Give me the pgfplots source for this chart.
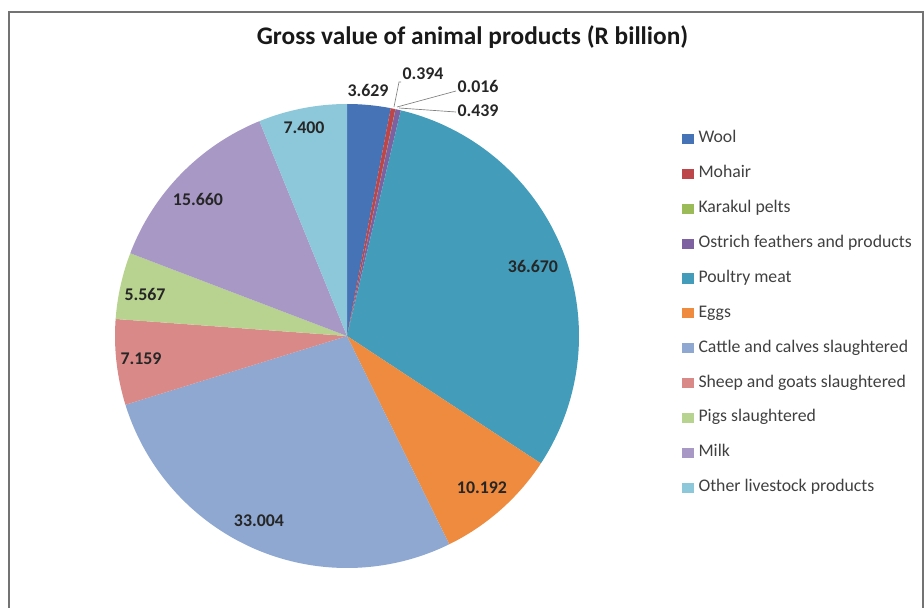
\documentclass[border=0pt]{standalone}
\usepackage{fontspec}
\setmainfont{Carlito}
\usepackage{pgfplots}
\usepackage{pgfplotstable}
\pgfplotsset{compat=1.18}
\definecolor{c1}{HTML}{4673B6}
\definecolor{c2}{HTML}{BC464A}
\definecolor{c3}{HTML}{9BBB59}
\definecolor{c4}{HTML}{7D61A0}
\definecolor{c5}{HTML}{439DBA}
\definecolor{c6}{HTML}{EE8B3E}
\definecolor{c7}{HTML}{8EA8D1}
\definecolor{c8}{HTML}{D98A88}
\definecolor{c9}{HTML}{B8D38F}
\definecolor{c10}{HTML}{A898C5}
\definecolor{c11}{HTML}{8CC8DA}
\tikzset{labl/.style={font=\bfseries\fontsize{13.4pt}{15pt}\selectfont, text=black!85, inner sep=0pt}}
\pgfplotstableread[col sep=comma]{
name,value,color
Wool,3.629,c1
Mohair,0.394,c2
Karakul pelts,0.016,c3
Ostrich feathers and products,0.439,c4
Poultry meat,36.670,c5
Eggs,10.192,c6
Cattle and calves slaughtered,33.004,c7
Sheep and goats slaughtered,7.159,c8
Pigs slaughtered,5.567,c9
Milk,15.660,c10
Other livestock products,7.400,c11
}\piedata
\pgfmathsetmacro\total{0}%
\pgfplotsforeachungrouped \i in {0,...,10}{%
  \pgfplotstablegetelem{\i}{value}\of\piedata%
  \pgfmathsetmacro\total{\total+\pgfplotsretval}}%
\begin{document}%
\begin{tikzpicture}
\begin{axis}[
  width=693pt, height=456pt, scale only axis,
  xmin=0, xmax=924, ymin=0, ymax=608,
  hide axis, clip=false,
  legend cell align=left,
  legend style={at={(axis cs:682,477.5)}, anchor=north west, draw=none, fill=none,
    inner sep=0pt, outer sep=0pt, row sep=14.2pt,
    font=\fontsize{13.3pt}{15pt}\selectfont, text=black!75,
    nodes={inner sep=0pt, text height=9pt, text depth=3pt},
    /tikz/every odd column/.append style={column sep=3.75pt}},
]
\pgfmathsetmacro\cum{0}
\pgfplotsforeachungrouped \i in {0,...,10}{%
  \pgfplotstablegetelem{\i}{value}\of\piedata \let\v\pgfplotsretval
  \pgfplotstablegetelem{\i}{color}\of\piedata \let\col\pgfplotsretval
  \pgfplotstablegetelem{\i}{name}\of\piedata \let\nm\pgfplotsretval
  \pgfmathsetmacro\fa{\cum/\total}
  \pgfmathsetmacro\fb{(\cum+\v)/\total}
  \pgfmathsetmacro\a{90-360*\fa}
  \pgfmathsetmacro\b{90-360*\fb}
  \edef\temp{\noexpand\fill[\col] (axis cs:347,272) -- ++(\a:174pt) arc[start angle=\a, end angle=\b, radius=174pt] -- cycle;}%
  \temp
  \edef\temp{\noexpand\addlegendimage{legend image code/.code={\noexpand\fill[\col] (0pt,-3.4pt) rectangle (8.25pt,3.4pt);}}}%
  \temp
  \addlegendentryexpanded{\nm}
  \pgfmathsetmacro\cum{\cum+\v}
}
% frame
\draw[black!55, line width=1.1pt] (axis cs:9,0) -- (axis cs:9,596) -- (axis cs:923,596) -- (axis cs:923,0);
% title
\node[font=\bfseries\fontsize{19pt}{22pt}\selectfont, anchor=base, text=black!90] at (axis cs:472.5,563) {Gross value of animal products (R billion)};
% leader lines
\draw[black!50, line width=0.5pt] (axis cs:394,501) -- (axis cs:399,526) -- (axis cs:401,526);
\draw[black!50, line width=0.5pt] (axis cs:397,501) -- (axis cs:456,517);
\draw[black!50, line width=0.5pt] (axis cs:399,500) -- (axis cs:456,496);
% data labels
\node[labl] at (axis cs:368,518) {3.629};
\node[labl] at (axis cs:423,534) {0.394};
\node[labl] at (axis cs:478,522) {0.016};
\node[labl] at (axis cs:478,497) {0.439};
\node[labl] at (axis cs:533,342) {36.670};
\node[labl] at (axis cs:482,120) {10.192};
\node[labl] at (axis cs:259,87) {33.004};
\node[labl] at (axis cs:141,249.5) {7.159};
\node[labl] at (axis cs:145,313.5) {5.567};
\node[labl] at (axis cs:198,409) {15.660};
\node[labl] at (axis cs:304,480) {7.400};
\end{axis}
\pgfresetboundingbox
\useasboundingbox (current axis.south west) rectangle (current axis.north east);
\end{tikzpicture}%
\end{document}
